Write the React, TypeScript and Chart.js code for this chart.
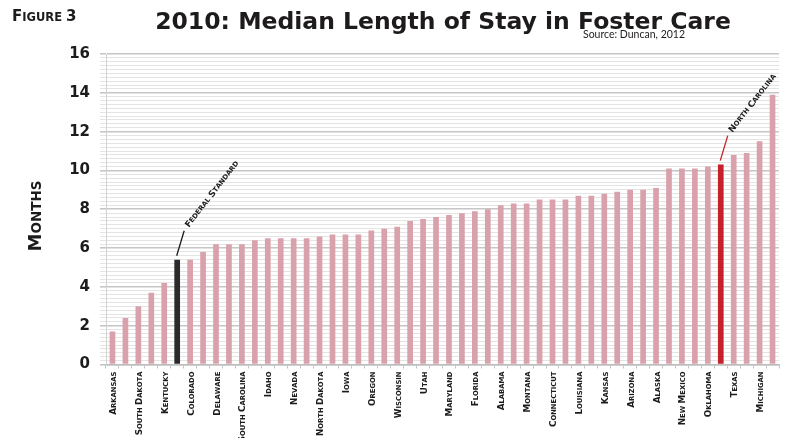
import React, { useEffect, useRef } from "react";
import { Chart, registerables } from "chart.js";

Chart.register(...registerables);

const HEAVY = '"DejaVu Sans", sans-serif';
const LIGHT = 'Lato, "DejaVu Sans", sans-serif';

const TITLE = "2010: Median Length of Stay in Foster Care";
const FIGURE_LABEL = "Figure 3";
const SOURCE = "Source: Duncan, 2012";
const Y_TITLE = "Months";

// One category per bar; only every other one carries an axis label.
const categories = [
  "Arkansas", "", "South Dakota", "", "Kentucky", "Federal Standard",
  "Colorado", "", "Delaware", "", "South Carolina", "",
  "Idaho", "", "Nevada", "", "North Dakota", "",
  "Iowa", "", "Oregon", "", "Wisconsin", "",
  "Utah", "", "Maryland", "", "Florida", "",
  "Alabama", "", "Montana", "", "Connecticut", "",
  "Louisiana", "", "Kansas", "", "Arizona", "",
  "Alaska", "", "New Mexico", "", "Oklahoma", "North Carolina",
  "Texas", "", "Michigan", "",
];

// Median months in care
const medianMonths = [
  1.7, 2.4, 3.0, 3.7, 4.2, 5.4,
  5.4, 5.8, 6.2, 6.2, 6.2, 6.4,
  6.5, 6.5, 6.5, 6.5, 6.6, 6.7,
  6.7, 6.7, 6.9, 7.0, 7.1, 7.4,
  7.5, 7.6, 7.7, 7.8, 7.9, 8.0,
  8.2, 8.3, 8.3, 8.5, 8.5, 8.5,
  8.7, 8.7, 8.8, 8.9, 9.0, 9.0,
  9.1, 10.1, 10.1, 10.1, 10.2, 10.3,
  10.8, 10.9, 11.5, 13.9,
];

const yTickLabels = [0, 2, 4, 6, 8, 10, 12, 14, 16];

const FEDERAL_INDEX = 5;
const NC_INDEX = 47;

const PINK = "#d9a1ac";
const BLACK = "#2b2a2a";
const RED = "#c4212b";
const INK = "#1e1b1c";

type Part = { t: string; s: number; w: number };

// Draws text in small caps: originally capital letters/digits at the big size,
// everything else upper-cased at the small size.
function smallCaps(
  ctx: CanvasRenderingContext2D,
  text: string,
  x: number,
  y: number,
  big: number,
  small: number,
  align: "left" | "right" | "center",
  family = HEAVY,
  weight = "bold"
) {
  const parts: Part[] = [];
  for (const ch of text) {
    const isBig = (ch !== ch.toLowerCase()) || /[0-9]/.test(ch);
    parts.push({ t: ch.toUpperCase(), s: isBig ? big : small, w: 0 });
  }
  let total = 0;
  for (const p of parts) {
    ctx.font = `${weight} ${p.s}px ${family}`;
    p.w = ctx.measureText(p.t).width;
    total += p.w;
  }
  let cx = align === "left" ? x : align === "right" ? x - total : x - total / 2;
  ctx.textAlign = "left";
  for (const p of parts) {
    ctx.font = `${weight} ${p.s}px ${family}`;
    ctx.fillText(p.t, cx, y);
    cx += p.w;
  }
}

const overlayPlugin = {
  id: "overlay",
  afterDraw(chart: any) {
    const { ctx } = chart;
    const xs = chart.scales.x;
    const ys = chart.scales.y;
    ctx.save();
    ctx.fillStyle = INK;
    ctx.textBaseline = "alphabetic";

    // Heading
    ctx.font = `bold 23.5px ${HEAVY}`;
    ctx.textAlign = "center";
    ctx.fillText(TITLE, 443, 28.5);
    smallCaps(ctx, FIGURE_LABEL, 12, 21, 15, 11.5, "left");
    ctx.font = `10.5px ${LIGHT}`;
    ctx.textAlign = "left";
    ctx.fillText(SOURCE, 583, 38);

    // Y axis title
    ctx.save();
    ctx.translate(41, 216);
    ctx.rotate(-Math.PI / 2);
    smallCaps(ctx, Y_TITLE, 0, 0, 18, 13.5, "center");
    ctx.restore();

    // Category labels under the axis
    categories.forEach((name, i) => {
      if (!name || i % 2 !== 0) return;
      const px = xs.getPixelForValue(i);
      ctx.save();
      ctx.translate(px + 3.5, ys.bottom + 7);
      ctx.rotate(-Math.PI / 2);
      smallCaps(ctx, name, 0, 0, 8.8, 6.8, "right");
      ctx.restore();
    });

    // Call-outs
    const callout = (idx: number, color: string) => {
      const px = xs.getPixelForValue(idx);
      const py = ys.getPixelForValue(medianMonths[idx]);
      ctx.strokeStyle = color;
      ctx.lineWidth = 1.3;
      ctx.beginPath();
      ctx.moveTo(px - 0.5, py - 4);
      ctx.lineTo(px + 7, py - 29);
      ctx.stroke();
      ctx.save();
      ctx.translate(px + 10, py - 33);
      ctx.rotate((-52 * Math.PI) / 180);
      ctx.fillStyle = INK;
      ctx.textBaseline = "middle";
      smallCaps(ctx, categories[idx], 0, 0, 8.8, 6.8, "left");
      ctx.restore();
    };
    callout(FEDERAL_INDEX, INK);
    callout(NC_INDEX, RED);

    ctx.restore();
  },
};

const isMajor = (v: number) => yTickLabels.some((t) => Math.abs(t - v) < 1e-6);

export default function App() {
  const canvasRef = useRef<HTMLCanvasElement | null>(null);

  useEffect(() => {
    if (!canvasRef.current) return;
    const colors = medianMonths.map((_, i) =>
      i === FEDERAL_INDEX ? BLACK : i === NC_INDEX ? RED : PINK
    );
    const chart = new Chart(canvasRef.current, {
      type: "bar",
      data: {
        labels: categories.map((c, i) => c || `#${i + 1}`),
        datasets: [
          {
            data: medianMonths,
            backgroundColor: colors,
            borderWidth: 0,
            barPercentage: 0.44,
            categoryPercentage: 1,
          },
        ],
      },
      options: {
        animation: false,
        responsive: true,
        maintainAspectRatio: false,
        layout: { padding: { left: 0, right: 14, top: 54, bottom: 0 } },
        plugins: {
          legend: { display: false },
          tooltip: { enabled: false },
          title: { display: false },
        },
        scales: {
          x: {
            offset: true,
            ticks: { display: false },
            grid: {
              display: true,
              offset: true,
              drawOnChartArea: false,
              drawTicks: true,
              tickLength: 4,
              color: "#c4c4c4",
            },
            border: { display: true, color: "#bdbdbd", width: 1.5 },
            afterFit: (s: any) => {
              s.height = 73.5;
              s.paddingLeft = 0;
              s.paddingRight = 0;
            },
          },
          y: {
            min: 0,
            max: 16,
            ticks: {
              stepSize: 0.2,
              autoSkip: false,
              maxTicksLimit: 200,
              padding: 10,
              color: INK,
              font: { family: HEAVY, size: 15, weight: "bold" },
              callback: (v: any) => (isMajor(Number(v)) ? String(Math.round(Number(v))) : ""),
            },
            grid: {
              drawTicks: true,
              tickLength: 6,
              color: (c: any) => (isMajor(c.tick.value) ? "#c6c6c6" : "#e4e4e4"),
              lineWidth: (c: any) => (isMajor(c.tick.value) ? 1.6 : 1),
            },
            border: { display: true, color: "#d2d2d2", width: 1 },
            afterFit: (s: any) => {
              s.width = 106;
              s.paddingTop = 0;
              s.paddingBottom = 0;
            },
          },
        },
      },
      plugins: [overlayPlugin],
    });
    return () => chart.destroy();
  }, []);

  return (
    <div style={{ position: "fixed", left: 0, top: 0, width: 793, height: 438, background: "#ffffff" }}>
      <canvas ref={canvasRef} />
    </div>
  );
}
